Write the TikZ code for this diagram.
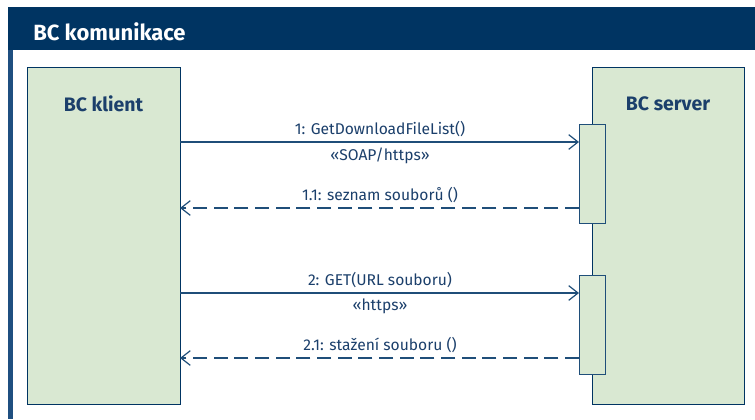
\documentclass[tikz,border=0pt]{standalone}
\usepackage{fontspec}
\setmainfont{Fira Sans}
\usetikzlibrary{arrows.meta}
\definecolor{navy}{HTML}{003462}
\definecolor{barblue}{HTML}{1F4F80}
\definecolor{boxfill}{HTML}{D9E8D2}
\definecolor{linecol}{HTML}{1F4E79}
\definecolor{txtcol}{HTML}{1B3F6B}
\tikzset{
  lifeline/.style={draw=navy, line width=1pt, fill=boxfill, anchor=north west, inner sep=0pt},
  actbox/.style={draw=linecol, line width=1pt, fill=boxfill, anchor=north west, inner sep=0pt},
  boxtitle/.style={font=\bfseries\fontsize{14.6}{16}\selectfont, text=txtcol},
  msglabel/.style={font=\fontsize{11.7}{13}\selectfont, text=txtcol},
  call/.style={draw=linecol, line width=0.9pt, -{Straight Barb[length=7pt,width=11pt,line width=0.9pt]}},
  reply/.style={call, dash pattern=on 10.5pt off 5pt}
}
\begin{document}
\begin{tikzpicture}[x=0.75pt,y=-0.75pt]
\useasboundingbox (0,0) rectangle (755,419);
\fill[white] (0,0) rectangle (755,419);
% frame
\fill[barblue] (8,7) rectangle (13,419);
\fill[navy] (8,7) rectangle (755,50);
\node[anchor=base west, text=white, font=\bfseries\fontsize{16.5}{18}\selectfont, inner sep=0pt] (title) at (33,40) {BC komunikace};
% lifelines
\node[lifeline, minimum width=153*0.75pt, minimum height=337*0.75pt] (client) at (27,67) {};
\node[lifeline, minimum width=152*0.75pt, minimum height=337*0.75pt] (server) at (592,67) {};
\node[boxtitle] (clientlbl) at (103.5,104) {BC klient};
\node[boxtitle] (serverlbl) at (668,104) {BC server};
% activations
\node[actbox, minimum width=26*0.75pt, minimum height=99*0.75pt] (act1) at (579,124) {};
\node[actbox, minimum width=26*0.75pt, minimum height=99*0.75pt] (act2) at (579,275) {};
% messages
\coordinate (c1) at (180,142);
\coordinate (s1) at (579,142);
\coordinate (c2) at (180,208);
\coordinate (s2) at (579,208);
\coordinate (c3) at (180,293);
\coordinate (s3) at (579,293);
\coordinate (c4) at (180,358);
\coordinate (s4) at (579,358);
\draw[call] (c1) -- (s1);
\draw[reply] (s2) -- (c2);
\draw[call] (c3) -- (s3);
\draw[reply] (s4) -- (c4);
\node[msglabel] (m1) at (380,129) {1: GetDownloadFileList()};
\node[msglabel] (m1s) at (380,156) {«SOAP/https»};
\node[msglabel] (m2) at (380,195) {1.1: seznam souborů ()};
\node[msglabel] (m3) at (380,280) {2: GET(URL souboru)};
\node[msglabel] (m3s) at (380,306) {«https»};
\node[msglabel] (m4) at (380,345) {2.1: stažení souboru ()};
\end{tikzpicture}
\end{document}
